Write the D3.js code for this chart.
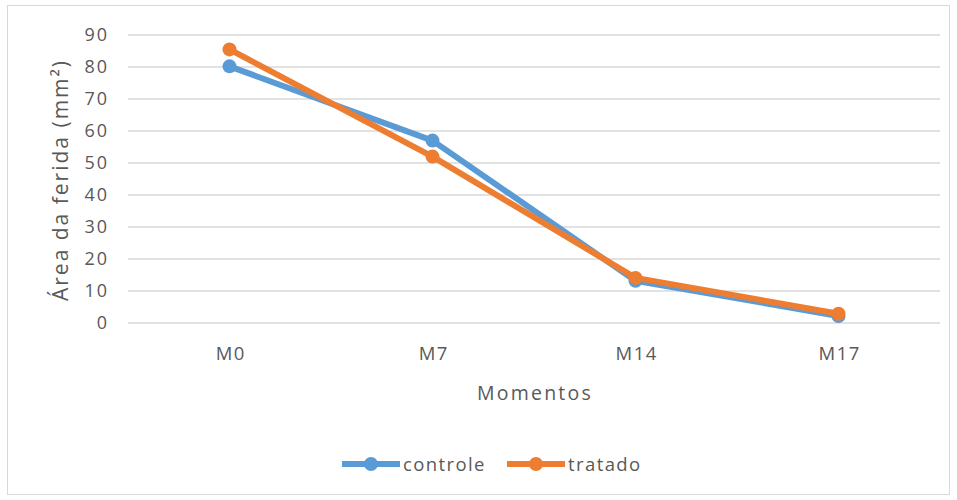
<!DOCTYPE html>
<html>
<head>
<meta charset="utf-8">
<script src="https://cdn.jsdelivr.net/npm/d3@7"></script>
<style>
  body { margin: 0; background: #fff; }
  text { font-family: "Open Sans", sans-serif; fill: #595959; }
</style>
</head>
<body>
<script>
// chart data
const categories = ['M0', 'M7', 'M14', 'M17'];
const controle = [80.2, 57.0, 13.2, 2.2];
const tratado = [85.5, 52.0, 14.1, 2.9];
const yTicks = [0, 10, 20, 30, 40, 50, 60, 70, 80, 90];

const series = [
  { name: 'controle', values: controle, color: '#5b9bd5' },
  { name: 'tratado', values: tratado, color: '#ed7d31' }
];

const width = 957, height = 500;
const plot = { left: 128, right: 940, top: 35, bottom: 323 };

const svg = d3.select('body').append('svg')
  .attr('width', width)
  .attr('height', height);

svg.append('rect')
  .attr('x', 7.5).attr('y', 5.5)
  .attr('width', 942).attr('height', 489)
  .attr('fill', '#fff')
  .attr('stroke', '#d9d9d9');

const x = d3.scalePoint()
  .domain(categories)
  .range([plot.left, plot.right])
  .padding(0.5);

const y = d3.scaleLinear()
  .domain([0, 90])
  .range([plot.bottom, plot.top]);

// grid
svg.append('g').selectAll('line')
  .data(yTicks)
  .enter().append('line')
  .attr('x1', plot.left).attr('x2', plot.right)
  .attr('y1', d => y(d)).attr('y2', d => y(d))
  .attr('stroke', '#d9d9d9')
  .attr('stroke-width', 1.3);

const yAxis = d3.axisLeft(y).tickValues(yTicks).tickSize(0).tickPadding(19);
const yg = svg.append('g')
  .attr('transform', `translate(${plot.left},0)`)
  .call(yAxis);
yg.select('.domain').remove();
yg.selectAll('text')
  .style('font-size', '18px')
  .style('letter-spacing', '2px')
  .attr('fill', '#595959');

const xAxis = d3.axisBottom(x).tickSize(0).tickPadding(24);
const xg = svg.append('g')
  .attr('transform', `translate(0,${plot.bottom})`)
  .call(xAxis);
xg.select('.domain').remove();
xg.selectAll('text')
  .style('font-size', '18.5px')
  .style('letter-spacing', '1.5px')
  .attr('dx', '0.75')
  .attr('fill', '#595959');

svg.append('text')
  .attr('x', (plot.left + plot.right) / 2 + 1)
  .attr('y', 400)
  .attr('text-anchor', 'middle')
  .style('font-size', '19.5px')
  .style('letter-spacing', '2.2px')
  .text('Momentos');

svg.append('text')
  .attr('transform', `translate(68,${(plot.top + plot.bottom) / 2 + 1}) rotate(-90)`)
  .attr('text-anchor', 'middle')
  .style('font-size', '21px')
  .style('letter-spacing', '2px')
  .text('Área da ferida (mm²)');

const line = d3.line()
  .x((d, i) => x(categories[i]))
  .y(d => y(d));

series.forEach(s => {
  const g = svg.append('g');
  g.append('path')
    .attr('d', line(s.values))
    .attr('fill', 'none')
    .attr('stroke', s.color)
    .attr('stroke-width', 6)
    .attr('stroke-linejoin', 'round');
  g.selectAll('circle')
    .data(s.values)
    .enter().append('circle')
    .attr('cx', (d, i) => x(categories[i]))
    .attr('cy', d => y(d))
    .attr('r', 7)
    .attr('fill', s.color);
});

// legend
const legend = svg.append('g').attr('transform', 'translate(0,464)');
const legendX = [342, 507];
series.forEach((s, i) => {
  const lg = legend.append('g').attr('transform', `translate(${legendX[i]},0)`);
  lg.append('line')
    .attr('x1', 0).attr('x2', 58)
    .attr('stroke', s.color).attr('stroke-width', 6);
  lg.append('circle').attr('cx', 29).attr('r', 7).attr('fill', s.color);
  lg.append('text')
    .attr('x', 61).attr('y', 7)
    .style('font-size', '18.5px')
    .style('letter-spacing', '1.4px')
    .text(s.name);
});
</script>
</body>
</html>
